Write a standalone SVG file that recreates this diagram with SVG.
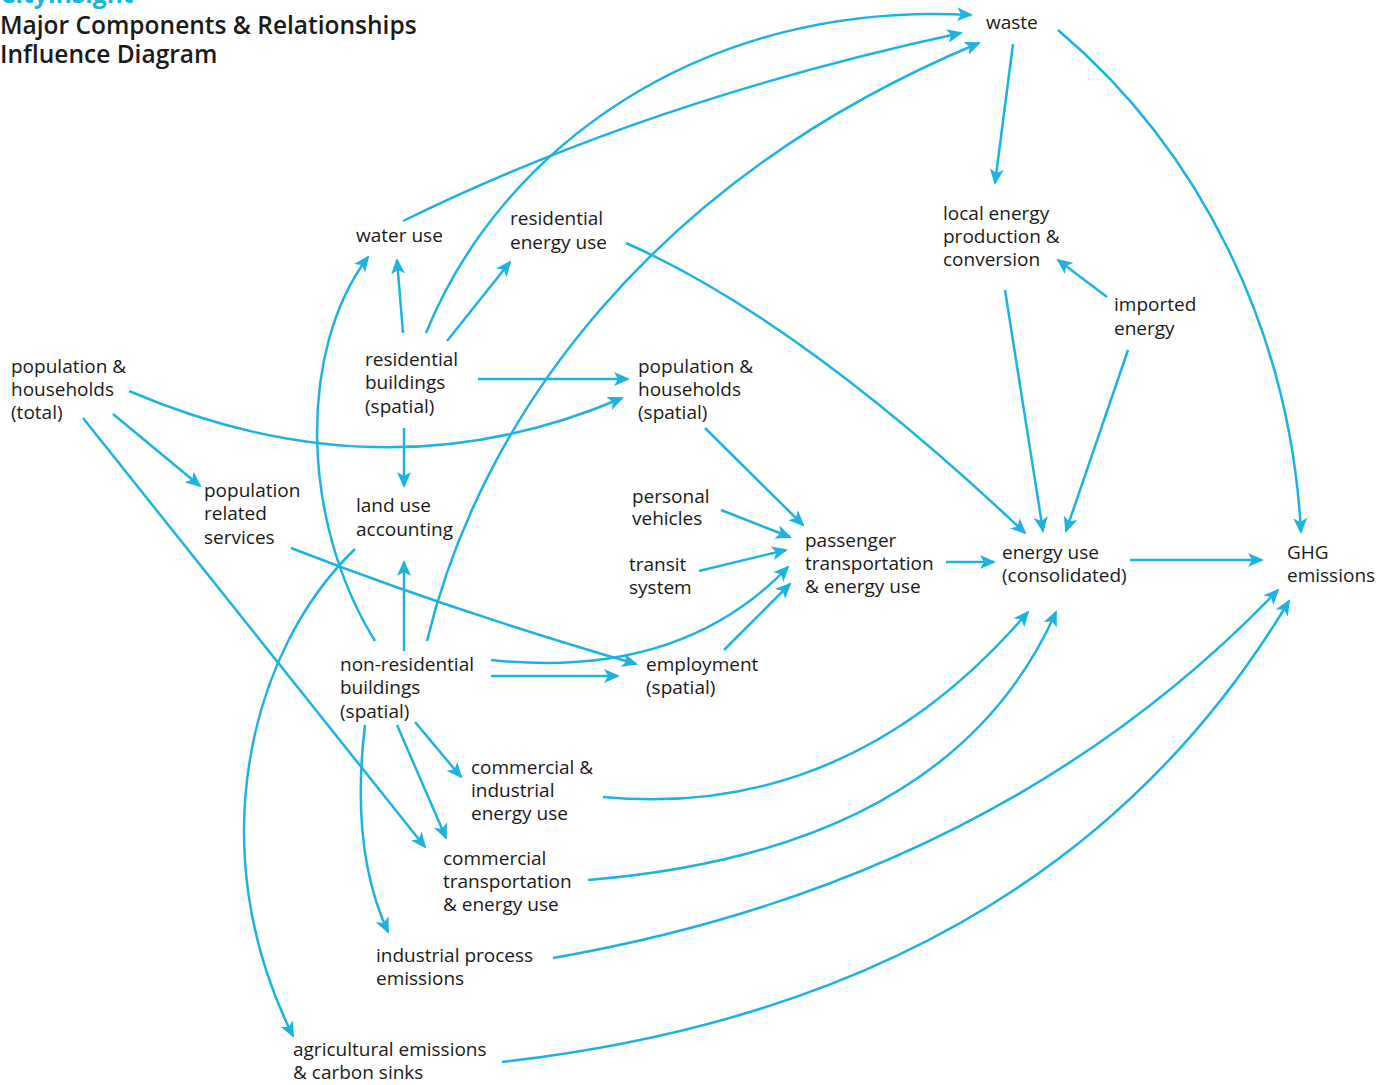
<svg xmlns="http://www.w3.org/2000/svg" width="1392" height="1085" viewBox="0 0 1392 1085">
<defs>
<style>
text{font-family:"Open Sans","Noto Sans","Liberation Sans",sans-serif;font-size:19px;fill:#1a1a1a}
.t{font-size:24.5px;font-weight:600}
.b{fill:#1cb3e3;font-weight:700}
.e path{fill:none;stroke:#1cb3e3;stroke-width:2.5;marker-end:url(#ah)}
</style>
<marker id="ah" markerUnits="userSpaceOnUse" markerWidth="16" markerHeight="14" refX="14" refY="7" orient="auto" viewBox="0 0 16 14">
<path d="M0,0 L16,7 L0,14 L4,7 z" fill="#1cb3e3"/>
</marker>
</defs>
<rect width="1392" height="1085" fill="#fff"/>
<g id="title">
<text class="t b" x="0" y="3">CityInSight</text>
<text class="t" x="0" y="34">Major Components &amp; Relationships</text>
<text class="t" x="0" y="63">Influence Diagram</text>
</g>
<g class="e" id="connectors">
<path d="M403,221 Q650,100 961,33"/>
<path d="M426,333 C500,150 700,0 971,15"/>
<path d="M427,641 C480,420 650,180 979,43"/>
<path d="M1013,44 L995,183"/>
<path d="M1058,30 C1200,150 1290,330 1301,532"/>
<path d="M1005,290 L1043,531"/>
<path d="M1107,297 L1058,260"/>
<path d="M1128,350 L1066,531"/>
<path d="M626,243 Q800,320 1025,533"/>
<path d="M403,333 L397,260"/>
<path d="M447,341 L510,262"/>
<path d="M478,379 L628,379"/>
<path d="M404,428 L404,486"/>
<path d="M129,391 Q384,500 622,398"/>
<path d="M113,414 L200,486"/>
<path d="M83,418 L425,847"/>
<path d="M291,548 Q450,610 636,664"/>
<path d="M375,641 C300,520 298,350 368,257"/>
<path d="M404,651 L404,562"/>
<path d="M491,660 Q680,680 788,567"/>
<path d="M491,676 L618,676"/>
<path d="M724,650 L790,584"/>
<path d="M705,428 L803,525"/>
<path d="M721,510 L790,537"/>
<path d="M699,571 L786,550"/>
<path d="M946,562 L994,562"/>
<path d="M1130,560 L1262,560"/>
<path d="M415,722 L461,777"/>
<path d="M397,725 L446,838"/>
<path d="M365,725 Q350,850 388,932"/>
<path d="M355,549 C250,650 200,850 293,1036"/>
<path d="M603,797 Q850,820 1028,612"/>
<path d="M588,880 Q950,850 1056,612"/>
<path d="M553,958 Q1000,880 1278,590"/>
<path d="M502,1062 Q1050,1000 1289,601"/>
</g>
<g id="waste"><text x="986" y="29">waste</text></g>
<g id="local-energy"><text x="943" y="220">local energy</text><text x="943" y="243">production &amp;</text><text x="943" y="266">conversion</text></g>
<g id="imported-energy"><text x="1114" y="311">imported</text><text x="1114" y="335">energy</text></g>
<g id="water-use"><text x="356" y="242">water use</text></g>
<g id="residential-energy"><text x="510" y="225">residential</text><text x="510" y="249">energy use</text></g>
<g id="pop-total"><text x="11" y="373">population &amp;</text><text x="11" y="396">households</text><text x="11" y="419">(total)</text></g>
<g id="res-buildings"><text x="365" y="366">residential</text><text x="365" y="389">buildings</text><text x="365" y="413">(spatial)</text></g>
<g id="pop-spatial"><text x="638" y="373">population &amp;</text><text x="638" y="396">households</text><text x="638" y="419">(spatial)</text></g>
<g id="pop-services"><text x="204" y="497">population</text><text x="204" y="520">related</text><text x="204" y="544">services</text></g>
<g id="land-use"><text x="356" y="512">land use</text><text x="356" y="536">accounting</text></g>
<g id="personal-vehicles"><text x="632" y="503">personal</text><text x="632" y="525">vehicles</text></g>
<g id="transit"><text x="629" y="571">transit</text><text x="629" y="594">system</text></g>
<g id="passenger"><text x="805" y="547">passenger</text><text x="805" y="570">transportation</text><text x="805" y="593">&amp; energy use</text></g>
<g id="energy-use"><text x="1002" y="559">energy use</text><text x="1002" y="582">(consolidated)</text></g>
<g id="ghg"><text x="1287" y="559">GHG</text><text x="1287" y="582">emissions</text></g>
<g id="nonres-buildings"><text x="340" y="671">non-residential</text><text x="340" y="694">buildings</text><text x="340" y="718">(spatial)</text></g>
<g id="employment"><text x="646" y="671">employment</text><text x="646" y="694">(spatial)</text></g>
<g id="comm-ind-energy"><text x="471" y="774">commercial &amp;</text><text x="471" y="797">industrial</text><text x="471" y="820">energy use</text></g>
<g id="comm-transport"><text x="443" y="865">commercial</text><text x="443" y="888">transportation</text><text x="443" y="911">&amp; energy use</text></g>
<g id="industrial-process"><text x="376" y="962">industrial process</text><text x="376" y="985">emissions</text></g>
<g id="agricultural"><text x="293" y="1056">agricultural emissions</text><text x="293" y="1079">&amp; carbon sinks</text></g>
</svg>
